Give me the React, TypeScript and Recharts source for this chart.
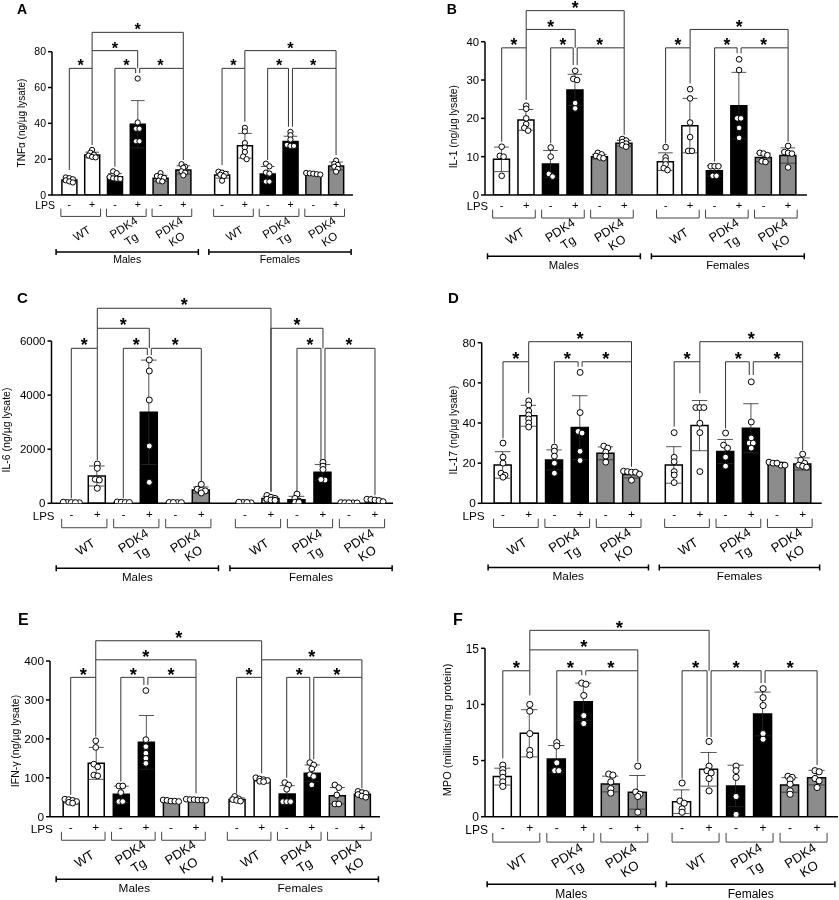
import React from "react";
import {
  Bar,
  Cell,
  ComposedChart,
  ErrorBar,
  ReferenceDot,
  ReferenceLine,
  Scatter,
  XAxis,
  YAxis,
} from "recharts";

const FONT = '"Liberation Sans", Arial, Helvetica, sans-serif';
const INK = "#000";
const BRACKET = "#333";
const ERR = "#2a2a2a";

const GROUP_LABELS: string[][] = [["WT"], ["PDK4", "Tg"], ["PDK4", "KO"]];
const LPS_SIGNS = ["-", "+"];
const SEX_LABELS = ["Males", "Females"];
const GROUP_FILLS = ["#ffffff", "#000000", "#8c8c8c"];

// order of every series: M WT-, M WT+, M Tg-, M Tg+, M KO-, M KO+, F WT-, F WT+, F Tg-, F Tg+, F KO-, F KO+
// bracket = [from bar, to bar, level, left leg end, right leg end]
type Bracket = [number, number, number, number, number];

// A - TNFa
const TNF_TICKS = [0, 20, 40, 60, 80];
const TNF_MEAN = [8.4, 22.3, 10.2, 39.5, 9.3, 14.0, 11.2, 27.5, 11.7, 29.8, 11.5, 16.2];
const TNF_SD = [1.1, 1.6, 1.8, 13.2, 1.7, 2.3, 1.8, 6.9, 4.2, 3.0, 0.45, 2.2];
const TNF_POINTS = [
  [9.8, 9.4, 8.8, 8.2, 7.6, 7.0],
  [25.2, 23.6, 22.5, 22.0, 21.3, 21.0],
  [13.2, 12.2, 10.0, 9.3, 9.1, 9.0],
  [65, 40.5, 37, 37, 30, 30],
  [12.2, 10.6, 10.2, 9.6, 8.0, 7.6],
  [17.2, 15.8, 15.2, 13.2, 12.5, 11.0],
  [13.0, 12.5, 11.8, 11.3, 10.5, 8.0],
  [37.5, 35.5, 29.0, 26.5, 24.0, 21.5, 20.0],
  [17.5, 16.0, 12.5, 12.0, 7.5, 7.5],
  [35.2, 33.4, 31.0, 28.0, 27.4, 27.4],
  [12.3, 12.1, 11.9, 11.6, 11.4],
  [19.2, 17.4, 16.8, 15.8, 14.6, 13.0],
];
const TNF_BRACKETS: Bracket[] = [
  [0, 1, 70.7, 14, 27.9],
  [2, 3, 70.7, 15.8, 68],
  [3, 5, 70.7, 68, 19.5],
  [1, 3, 80.6, 70.7, 70.7],
  [1, 5, 90.8, 80.6, 70.7],
  [6, 7, 70.7, 16.7, 40.9],
  [8, 9, 70.7, 19.5, 38.1],
  [9, 11, 70.7, 38.1, 22.3],
  [7, 11, 80.6, 70.7, 70.7],
];

// B - IL-1
const IL1_TICKS = [0, 10, 20, 30, 40];
const IL1_MEAN = [9.3, 19.6, 8.1, 27.4, 10.0, 13.5, 8.7, 18.1, 6.3, 23.3, 9.8, 10.3];
const IL1_SD = [3.2, 2.7, 3.5, 4.1, 0.6, 0.75, 2.3, 7.1, 1.4, 8.7, 1.1, 2.0];
const IL1_POINTS = [
  [12.6, 10.2, 10.0, 5.0],
  [23.3, 22.5, 20.0, 18.5, 17.5, 16.8],
  [12.4, 10.0, 5.5, 4.8],
  [32.4, 30.3, 30.0, 24.0, 22.6],
  [11.0, 10.6, 10.2, 9.8, 9.6],
  [14.6, 14.2, 13.8, 13.4, 13.0, 12.6],
  [12.5, 9.8, 9.0, 8.0, 7.0, 6.5],
  [27.6, 25.2, 18.9, 15.1, 11.5, 11.5],
  [7.5, 7.5, 7.5, 5.0, 5.0],
  [35.4, 32.6, 20.0, 20.0, 17.5, 14.9],
  [11.0, 10.8, 10.4, 8.8, 8.6],
  [12.8, 11.2, 11.0, 10.8, 7.2],
];
const IL1_BRACKETS: Bracket[] = [
  [0, 1, 38.4, 13.9, 24.8],
  [2, 3, 38.4, 13.5, 33.9],
  [3, 5, 38.4, 33.9, 15.7],
  [1, 3, 43.2, 38.4, 38.4],
  [1, 5, 48.1, 43.2, 38.4],
  [6, 7, 38.4, 13.5, 29.1],
  [8, 9, 38.4, 8.7, 37],
  [9, 11, 38.4, 37, 13.9],
  [7, 11, 43.2, 38.4, 38.4],
];

// C - IL-6
const IL6_TICKS = [0, 2000, 4000, 6000];
const IL6_MEAN = [30, 1010, 40, 3364, 28, 490, 28, 180, 130, 1146, 20, 115];
const IL6_SD = [8, 370, 10, 1930, 8, 115, 9, 68, 128, 290, 4, 36];
const IL6_POINTS = [
  [20, 30, 40, 30, 25],
  [1453, 1294, 887, 861, 555],
  [50, 40, 30, 30],
  [5300, 4891, 3819, 2118, 776],
  [25, 30, 30, 25],
  [700, 520, 480, 460, 380],
  [30, 20, 30, 40],
  [290, 220, 180, 150, 120, 110],
  [340, 180, 80, 40, 40],
  [1516, 1373, 1250, 861, 880],
  [15, 25, 20, 20, 15],
  [150, 140, 120, 100, 60],
];
const IL6_BRACKETS: Bracket[] = [
  [0, 1, 5730, 185, 1600],
  [2, 3, 5730, 185, 5480],
  [3, 5, 5730, 5480, 800],
  [1, 3, 6470, 5730, 5730],
  [1, 7, 7210, 6470, 430],
  [7, 9, 6470, 430, 5730],
  [8, 9, 5730, 450, 1600],
  [9, 11, 5730, 1600, 300],
];

// D - IL-17
const IL17_TICKS = [0, 20, 40, 60, 80];
const IL17_MEAN = [19.1, 43.6, 21.6, 37.7, 24.9, 14.4, 19.1, 38.7, 25.8, 37.4, 19.9, 19.6];
const IL17_SD = [6.6, 5.2, 5.0, 15.9, 3.2, 1.8, 9.1, 12.5, 6.0, 12.2, 0.6, 3.0];
const IL17_POINTS = [
  [30, 23, 20, 15, 14, 13],
  [51, 49, 46, 44, 42, 40, 38],
  [28, 26, 23.5, 20, 15],
  [65.2, 45.2, 35.8, 35, 25.9, 21.3],
  [28.5, 27.5, 25.5, 23.5, 20.5],
  [16, 15.8, 15.5, 15.5, 14.5, 11.5],
  [35.2, 22.9, 20.7, 15.8, 14.1, 10.3],
  [47.7, 47.7, 47.7, 39.9, 35.2, 15.8],
  [35, 29, 27.5, 23, 18.5],
  [60.5, 40.5, 32.5, 30, 30, 27.5],
  [20.5, 20, 19, 19, 20],
  [24.5, 21.5, 20, 19, 18.5, 18],
];
const IL17_BRACKETS: Bracket[] = [
  [0, 1, 70.5, 32.4, 54.8],
  [2, 3, 70.5, 29.9, 68],
  [3, 5, 70.5, 68, 18.2],
  [1, 5, 80.5, 70.5, 70.5],
  [6, 7, 70.5, 38.2, 54.8],
  [8, 9, 70.5, 37.3, 63.9],
  [9, 11, 70.5, 63.9, 26.5],
  [7, 11, 80.5, 70.5, 70.5],
];

// E - IFN-y
const IFN_TICKS = [0, 100, 200, 300, 400];
const IFN_MEAN = [39, 137, 57.5, 191, 40, 43.5, 44, 95, 58.3, 111.5, 54, 57.5];
const IFN_SD = [4, 41, 21, 69, 2, 1.5, 4.5, 4, 21.5, 21.5, 21, 5.5];
const IFN_POINTS = [
  [45, 44, 42, 39, 37, 35],
  [195, 178, 135, 128, 107, 105],
  [79, 79, 62, 39, 39],
  [324, 198, 180, 163, 150, 137],
  [43, 42, 40, 40, 39],
  [45, 44, 44, 43, 43, 42],
  [52, 46, 44, 42, 40],
  [100, 97, 95, 93, 91, 90],
  [87.6, 81.6, 70.4, 38.6, 38.6, 38.6],
  [139, 133, 123, 107.8, 103.5, 81.8],
  [81.6, 74.7, 55.8, 32.7, 32.7],
  [65, 62, 60, 57, 53, 50],
];
const IFN_BRACKETS: Bracket[] = [
  [0, 1, 358, 55.8, 205.7],
  [2, 3, 358, 90, 338.6],
  [3, 5, 358, 338.6, 60],
  [1, 5, 403, 358, 358],
  [1, 7, 452, 403, 403],
  [6, 7, 358, 60, 111.6],
  [7, 11, 403, 358, 358],
  [8, 9, 358, 100, 147.5],
  [9, 11, 358, 147.5, 73],
];

// F - MPO
const MPO_TICKS = [0, 5, 10, 15];
const MPO_MEAN = [3.57, 7.43, 5.14, 10.25, 2.91, 2.17, 1.34, 4.22, 2.74, 9.15, 2.83, 3.48];
const MPO_SD = [0.75, 2.1, 1.2, 1.65, 0.7, 1.5, 1.05, 1.5, 1.85, 1.95, 0.65, 0.65];
const MPO_POINTS = [
  [4.6, 4.2, 3.9, 3.5, 3.1, 2.7],
  [10, 9.4, 7.4, 5.9, 5.5],
  [6.6, 6.3, 4.8, 4.1, 4.1],
  [11.9, 11.8, 10.8, 9.0, 8.3],
  [3.8, 3.7, 3.1, 2.5, 2.1],
  [4.5, 2.2, 2.0, 1.8, 0.4],
  [3.0, 1.4, 1.2, 0.7, 0.4],
  [6.7, 4.5, 4.1, 3.9, 3.4, 2.3],
  [4.5, 4.1, 3.5, 1.8, 0.2],
  [11.4, 10.6, 9.9, 7.4, 6.9],
  [3.6, 3.5, 3.3, 2.9, 2.3, 2.0],
  [4.1, 4.0, 3.4, 3.2, 2.6],
];
const MPO_BRACKETS: Bracket[] = [
  [0, 1, 13.0, 5.2, 10.8],
  [2, 3, 13.0, 6.8, 12.6],
  [3, 5, 13.0, 12.6, 4.9],
  [1, 5, 14.86, 13.0, 13.0],
  [1, 7, 16.6, 14.86, 13.0],
  [6, 7, 13.0, 3.4, 7.1],
  [7, 9, 13.0, 7.1, 11.9],
  [9, 11, 13.0, 11.9, 4.6],
];

interface PanelSpec {
  letter: string;
  yLabel: string;
  yTicks: number[];
  means: number[];
  sd: number[];
  points: number[][];
  brackets: Bracket[];
  box: [number, number, number, number]; // page left, top, width, height
  plot: [number, number, number, number]; // local left, top, right, bottom
  c0: number; // first bar centre
  s: number; // bar spacing
  fOff: number; // where the female bars start
  fs: number;
  yLab: [number, number, number];
  letterPos: [number, number, number];
}

const PANELS: PanelSpec[] = [
  {
    letter: "A", yLabel: "TNFα (ng/µg lysate)", yTicks: TNF_TICKS,
    means: TNF_MEAN, sd: TNF_SD, points: TNF_POINTS, brackets: TNF_BRACKETS,
    box: [0, 0, 420, 300], plot: [52, 51.7, 353, 195], c0: 69.3, s: 22.8, fOff: 6.7, fs: 10.5,
    yLab: [21.7, 123, 10], letterPos: [17, 13.5, 14],
  },
  {
    letter: "B", yLabel: "IL-1 (ng/µg lysate)", yTicks: IL1_TICKS,
    means: IL1_MEAN, sd: IL1_SD, points: IL1_POINTS, brackets: IL1_BRACKETS,
    box: [420, 0, 419, 300], plot: [65, 41.7, 387, 195], c0: 81.7, s: 24.5, fOff: 6.69, fs: 11.3,
    yLab: [33.3, 126.7, 10.3], letterPos: [26.7, 13.5, 14],
  },
  {
    letter: "C", yLabel: "IL-6 (ng/µg lysate)", yTicks: IL6_TICKS,
    means: IL6_MEAN, sd: IL6_SD, points: IL6_POINTS, brackets: IL6_BRACKETS,
    box: [0, 300, 420, 300], plot: [51.5, 41, 393, 203.3], c0: 71.3, s: 26, fOff: 6.68, fs: 11.5,
    yLab: [5.5, 130, 10.5], letterPos: [17, 3, 15],
  },
  {
    letter: "D", yLabel: "IL-17 (ng/µg lysate)", yTicks: IL17_TICKS,
    means: IL17_MEAN, sd: IL17_SD, points: IL17_POINTS, brackets: IL17_BRACKETS,
    box: [420, 300, 419, 300], plot: [61.7, 42.7, 401.7, 203.3], c0: 83, s: 25.7, fOff: 6.66, fs: 11.8,
    yLab: [33, 130, 10.3], letterPos: [28, 3, 15],
  },
  {
    letter: "E", yLabel: "IFN-γ (ng/µg lysate)", yTicks: IFN_TICKS,
    means: IFN_MEAN, sd: IFN_SD, points: IFN_POINTS, brackets: IFN_BRACKETS,
    box: [0, 600, 420, 300], plot: [50, 61, 380, 216.7], c0: 70.7, s: 25.06, fOff: 6.62, fs: 11.8,
    yLab: [15, 141, 10.5], letterPos: [18, 25, 16],
  },
  {
    letter: "F", yLabel: "MPO (milliunits/mg protein)", yTicks: MPO_TICKS,
    means: MPO_MEAN, sd: MPO_SD, points: MPO_POINTS, brackets: MPO_BRACKETS,
    box: [420, 600, 419, 300], plot: [65, 48.3, 418, 216.7], c0: 82.8, s: 27, fOff: 6.64, fs: 12,
    yLab: [26.7, 130, 11], letterPos: [33, 25, 16],
  },
];

// side-by-side placement of dots that sit at almost the same height
function swarm(vals: number[], pxPerUnit: number, d: number): number[] {
  const order = vals.map((_, i) => i).sort((a, b) => vals[b] - vals[a]);
  const offs = new Array(vals.length).fill(0);
  let row: number[] = [];
  let rowY = 0;
  const flush = () => {
    row.forEach((idx, k) => {
      offs[idx] = (k - (row.length - 1) / 2) * d;
    });
  };
  for (const i of order) {
    const y = vals[i] * pxPerUnit;
    if (row.length && rowY - y < d * 0.8) row.push(i);
    else {
      flush();
      row = [i];
      rowY = y;
    }
  }
  flush();
  return offs;
}

function Panel({ p }: { p: PanelSpec }) {
  const [, , bw, bh] = p.box;
  const [pl, pt, pr, pb] = p.plot;
  const s = p.s;
  const xMin = (pl - p.c0) / s;
  const xMax = (pr - p.c0) / s;
  const yMax = p.yTicks[p.yTicks.length - 1];
  const xs = p.means.map((_, i) => (i < 6 ? i : p.fOff + i - 6));
  const barData = p.means.map((m, i) => ({ x: xs[i], y: m, err: p.sd[i] }));
  const pxPerUnit = (pb - pt) / yMax;
  const r = 0.115 * s;
  const dotData = p.points.flatMap((vals, i) => {
    const offs = swarm(vals, pxPerUnit, r * 1.35);
    return vals.map((v, k) => ({ x: xs[i] + offs[k] / s, y: v }));
  });

  const delta = 2 / s;
  const segs: number[][] = [];
  const stars: { x: number; y: number }[] = [];
  p.brackets.forEach(([a, b, lvl, ya, yb]) => {
    const joinL = p.brackets.some((o) => o[1] === a && o[2] === lvl);
    const joinR = p.brackets.some((o) => o[0] === b && o[2] === lvl);
    const xa = xs[a] + (joinL ? delta : 0);
    const xb = xs[b] - (joinR ? delta : 0);
    segs.push([xa, ya, xa, lvl], [xa, lvl, xb, lvl], [xb, lvl, xb, yb]);
    stars.push({ x: (xs[a] + xs[b]) / 2, y: lvl });
  });

  const fs = p.fs;
  const gfs = fs * 1.1;
  const starFs = fs * 1.55;

  const renderTick = (props: any) => {
    const { x, y, index } = props;
    const els: React.ReactNode[] = [];
    els.push(
      <text key="pm" x={x} y={y + 0.41 * s} dy="0.35em" textAnchor="middle" fontSize={fs} fill={INK}>
        {LPS_SIGNS[index % 2]}
      </text>,
    );
    if (index % 2 === 0) {
      const lab = GROUP_LABELS[(index / 2) % 3];
      const x1 = x - 0.37 * s;
      const x2 = x + s + 0.37 * s;
      const yt = y + 0.6 * s;
      const yb = y + 0.94 * s;
      els.push(
        <path key="gb" d={`M${x1},${yt}V${yb}H${x2}V${yt}`} fill="none" stroke="#444" strokeWidth={1} />,
      );
      const cx = x + s / 2 + 1;
      const cy = y + 1.68 * s;
      const lh = gfs * 1.2;
      els.push(
        <text key="gl" transform={`translate(${cx},${cy}) rotate(-33)`} textAnchor="middle" fontSize={gfs} fill={INK}>
          {lab.map((t, k) => (
            <tspan key={k} x={0} y={(k - (lab.length - 1) / 2) * lh} dy="0.35em">
              {t}
            </tspan>
          ))}
        </text>,
      );
    }
    if (index % 6 === 0) {
      const xa = x - 0.58 * s;
      const xb = x + 5 * s + 0.66 * s;
      const ly = y + 2.5 * s;
      els.push(
        <path
          key="sx"
          d={`M${xa},${ly - 3}V${ly + 3}M${xa},${ly}H${xb}M${xb},${ly - 3}V${ly + 3}`}
          fill="none"
          stroke={INK}
          strokeWidth={1.5}
        />,
      );
      els.push(
        <text key="st" x={(xa + xb) / 2} y={y + 2.84 * s} dy="0.35em" textAnchor="middle" fontSize={fs} fill={INK}>
          {SEX_LABELS[index / 6]}
        </text>,
      );
    }
    if (index === 0) {
      els.push(
        <text key="lps" x={x + xMin * s + 3} y={y + 0.47 * s} dy="0.35em" textAnchor="end" fontSize={fs} fill={INK}>
          LPS
        </text>,
      );
    }
    return <g>{els}</g>;
  };

  return (
    <ComposedChart
      width={bw}
      height={bh}
      data={barData}
      margin={{ top: pt, right: bw - pr, bottom: 0, left: 0 }}
    >
      <XAxis
        dataKey="x"
        type="number"
        domain={[xMin, xMax]}
        allowDataOverflow
        ticks={xs}
        interval={0}
        tick={renderTick}
        tickLine={false}
        tickSize={0}
        tickMargin={0}
        height={bh - pb}
        axisLine={{ stroke: INK, strokeWidth: 1.5 }}
      />
      <XAxis xAxisId="dots" dataKey="x" type="number" domain={[xMin, xMax]} allowDataOverflow hide />
      <YAxis
        type="number"
        domain={[0, yMax]}
        allowDataOverflow
        ticks={p.yTicks}
        interval={0}
        width={pl}
        tickSize={4}
        tickMargin={2}
        axisLine={{ stroke: INK, strokeWidth: 1.5 }}
        tickLine={{ stroke: INK, strokeWidth: 1.5 }}
        tick={{ fontSize: fs, fill: INK, fontFamily: FONT }}
      />
      <Bar dataKey="y" barSize={Math.round(0.65 * s)} stroke={INK} strokeWidth={1.5} isAnimationActive={false}>
        {barData.map((_, i) => (
          <Cell key={i} fill={GROUP_FILLS[Math.floor((i % 6) / 2)]} />
        ))}
        <ErrorBar dataKey="err" width={0.3 * s} stroke={ERR} strokeWidth={0.8} direction="y" isAnimationActive={false} />
      </Bar>
      <Scatter
        xAxisId="dots"
        data={dotData}
        dataKey="y"
        isAnimationActive={false}
        shape={(sp: any) => <circle cx={sp.cx} cy={sp.cy} r={r} fill="#fff" stroke={INK} strokeWidth={1} />}
      />
      {segs.map((g, k) => (
        <ReferenceLine
          key={`seg${k}`}
          segment={[
            { x: g[0], y: g[1] },
            { x: g[2], y: g[3] },
          ]}
          stroke={BRACKET}
          strokeWidth={1}
          ifOverflow="visible"
        />
      ))}
      {stars.map((st, k) => (
        <ReferenceDot
          key={`star${k}`}
          x={st.x}
          y={st.y}
          r={2}
          ifOverflow="visible"
          shape={(sp: any) => (
            <text
              x={sp.cx}
              y={sp.cy - 0.28 * s + 0.58 * starFs}
              textAnchor="middle"
              fontSize={starFs}
              fontWeight="bold"
              fill={INK}
              fontFamily={FONT}
            >
              *
            </text>
          )}
        />
      ))}
    </ComposedChart>
  );
}

export default function App() {
  return (
    <div
      style={{
        position: "absolute",
        left: 0,
        top: 0,
        width: 839,
        height: 900,
        background: "#fff",
        fontFamily: FONT,
      }}
    >
      <style>{".recharts-surface{overflow:visible}.recharts-wrapper{overflow:visible}"}</style>
      {PANELS.map((p) => (
        <div
          key={p.letter}
          style={{
            position: "absolute",
            left: p.box[0],
            top: p.box[1],
            width: p.box[2],
            height: p.box[3],
            willChange: "transform",
          }}
        >
          <Panel p={p} />
        </div>
      ))}
      <svg
        width={839}
        height={900}
        style={{ position: "absolute", left: 0, top: 0, pointerEvents: "none", fontFamily: FONT }}
      >
        {PANELS.map((p) => {
          const lx = p.box[0] + p.yLab[0];
          const ly = p.box[1] + p.yLab[1];
          return (
            <g key={p.letter}>
              <text
                x={p.box[0] + p.letterPos[0]}
                y={p.box[1] + p.letterPos[1]}
                fontSize={p.letterPos[2]}
                fontWeight="bold"
                fill={INK}
              >
                {p.letter}
              </text>
              <text
                x={lx}
                y={ly}
                transform={`rotate(-90 ${lx} ${ly})`}
                textAnchor="middle"
                dominantBaseline="central"
                fontSize={p.yLab[2]}
                fill={INK}
              >
                {p.yLabel}
              </text>
            </g>
          );
        })}
      </svg>
    </div>
  );
}
